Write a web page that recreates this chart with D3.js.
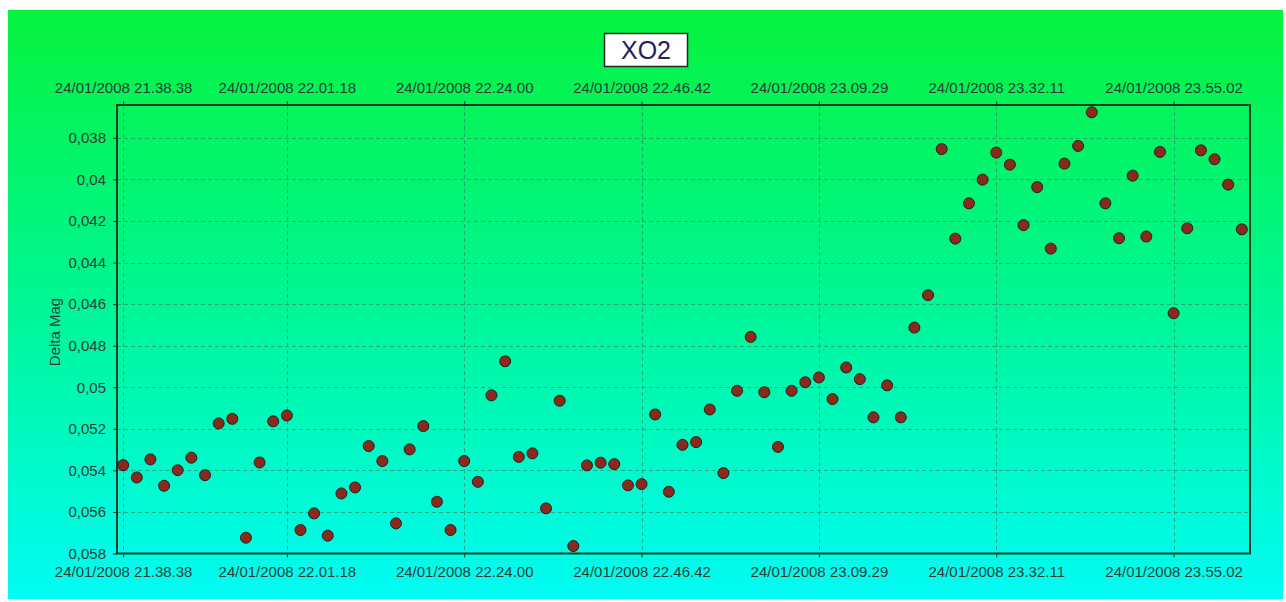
<!DOCTYPE html>
<html>
<head>
<meta charset="utf-8">
<script src="https://cdn.jsdelivr.net/npm/d3@7"></script>
<style>
  html, body { margin: 0; padding: 0; background: #ffffff; }
  svg { display: block; }
  text { font-family: "Liberation Sans", Arial, sans-serif; }
</style>
</head>
<body>
<script>
// ---- Data ----
const chartTitle = "XO2";
const yAxisTitle = "Delta Mag";
// Delta magnitude of each observation, in time order (83 points)
const deltaMag = [
  0.05375, 0.05434, 0.05347, 0.05474, 0.05399, 0.05339, 0.05423, 0.05174, 0.05152, 0.05724,
  0.05362, 0.05164, 0.05136, 0.05687, 0.05607, 0.05714, 0.05511, 0.05482, 0.05283, 0.05355,
  0.05655, 0.05299, 0.05187, 0.05551, 0.05687, 0.05355, 0.05455, 0.05039, 0.04875, 0.05335,
  0.05318, 0.05583, 0.05065, 0.05764, 0.05376, 0.05363, 0.05370, 0.05472, 0.05466, 0.05131,
  0.05503, 0.05277, 0.05264, 0.05107, 0.05413, 0.05017, 0.04758, 0.05024, 0.05287, 0.05017,
  0.04976, 0.04953, 0.05057, 0.04905, 0.04961, 0.05145, 0.04991, 0.05145, 0.04713, 0.04557,
  0.03854, 0.04285, 0.04115, 0.04001, 0.03871, 0.03929, 0.04220, 0.04037, 0.04333, 0.03924,
  0.03839, 0.03677, 0.04115, 0.04283, 0.03982, 0.04275, 0.03868, 0.04644, 0.04235, 0.03860,
  0.03903, 0.04025, 0.04240
];
// Observations carrying a time label, and those labels
const xTickIndex = [0, 12, 25, 38, 51, 64, 77];
const xTickLabels = [
  "24/01/2008 21.38.38", "24/01/2008 22.01.18", "24/01/2008 22.24.00",
  "24/01/2008 22.46.42", "24/01/2008 23.09.29", "24/01/2008 23.32.11",
  "24/01/2008 23.55.02"
];
const yTicks = [0.038, 0.040, 0.042, 0.044, 0.046, 0.048, 0.050, 0.052, 0.054, 0.056, 0.058];

// ---- Layout ----
const W = 1286, H = 602;
const plot = { left: 117, right: 1250, top: 105, bottom: 553.5 };

const svg = d3.select("body").append("svg").attr("width", W).attr("height", H);

const defs = svg.append("defs");
const grad = defs.append("linearGradient").attr("id", "bg")
  .attr("x1", 0).attr("y1", 0).attr("x2", 0).attr("y2", 1);
grad.append("stop").attr("offset", "0%").attr("stop-color", "rgb(6,243,62)");
grad.append("stop").attr("offset", "45%").attr("stop-color", "rgb(0,246,140)");
grad.append("stop").attr("offset", "100%").attr("stop-color", "rgb(0,252,245)");

svg.append("rect").attr("x", 0).attr("y", 0).attr("width", W).attr("height", H).attr("fill", "#fff");
svg.append("rect").attr("x", 8).attr("y", 10).attr("width", 1275).attr("height", 589)
  .attr("fill", "url(#bg)");

// ---- Scales ----
const x = d3.scaleLinear().domain([-0.45, 82.6]).range([plot.left, plot.right]);
const y = d3.scaleLinear().domain([0.058, 0.03642]).range([plot.bottom, plot.top]);

const locale = d3.formatLocale({ decimal: ",", thousands: ".", grouping: [3], currency: ["", ""] });
const fmt = locale.format("~g");

// ---- Grid ----
const grid = svg.append("g").attr("stroke", "#2f8a66").attr("stroke-opacity", 0.7)
  .attr("stroke-width", 1).attr("stroke-dasharray", "4,3");
grid.selectAll("line.h").data(yTicks.filter(v => v !== 0.058)).join("line")
  .attr("x1", plot.left).attr("x2", plot.right)
  .attr("y1", d => Math.round(y(d)) + 0.5).attr("y2", d => Math.round(y(d)) + 0.5);
grid.selectAll("line.v").data(xTickIndex).join("line")
  .attr("y1", plot.top).attr("y2", plot.bottom)
  .attr("x1", d => Math.round(x(d)) + 0.5).attr("x2", d => Math.round(x(d)) + 0.5);

// ---- Axes ----
const textColor = "#2a3d34";
function styleAxis(g) {
  g.select(".domain").remove();
  g.selectAll(".tick line").attr("stroke", "#1d3a2a");
  g.selectAll(".tick text").attr("fill", textColor).attr("font-size", 15)
    .attr("font-family", "'Liberation Sans', Arial, sans-serif");
}
svg.append("g").attr("transform", `translate(${plot.left},0)`)
  .call(d3.axisLeft(y).tickValues(yTicks).tickFormat(fmt).tickSize(4).tickPadding(7))
  .call(styleAxis);
svg.append("g").attr("transform", `translate(0,${plot.bottom})`)
  .call(d3.axisBottom(x).tickValues(xTickIndex).tickFormat((d, i) => xTickLabels[i]).tickSize(4).tickPadding(9))
  .call(styleAxis);
svg.append("g").attr("transform", `translate(0,${plot.top})`)
  .call(d3.axisTop(x).tickValues(xTickIndex).tickFormat((d, i) => xTickLabels[i]).tickSize(4).tickPadding(8))
  .call(styleAxis);

// ---- Plot border ----
svg.append("rect").attr("x", plot.left).attr("y", plot.top)
  .attr("width", plot.right - plot.left).attr("height", plot.bottom - plot.top)
  .attr("fill", "none").attr("stroke", "#123d22").attr("stroke-width", 2);

// ---- Points ----
svg.append("g").selectAll("circle").data(deltaMag).join("circle")
  .attr("cx", (d, i) => x(i)).attr("cy", d => y(d)).attr("r", 5.5)
  .attr("fill", "#8a2a1c").attr("stroke", "#202020").attr("stroke-width", 1);

// ---- Y axis title ----
svg.append("text").attr("transform", "translate(60,332) rotate(-90)")
  .attr("text-anchor", "middle").attr("font-size", 15).attr("fill", textColor)
  .text(yAxisTitle);

// ---- Title box ----
const tg = svg.append("g");
tg.append("rect").attr("x", 604.5).attr("y", 33.5).attr("width", 83).attr("height", 33)
  .attr("fill", "#ffffff").attr("stroke", "#1a2a2a").attr("stroke-width", 1.5);
tg.append("text").attr("x", 646).attr("y", 59).attr("text-anchor", "middle")
  .attr("font-size", 25).attr("fill", "#22225e").text(chartTitle);
</script>
</body>
</html>
